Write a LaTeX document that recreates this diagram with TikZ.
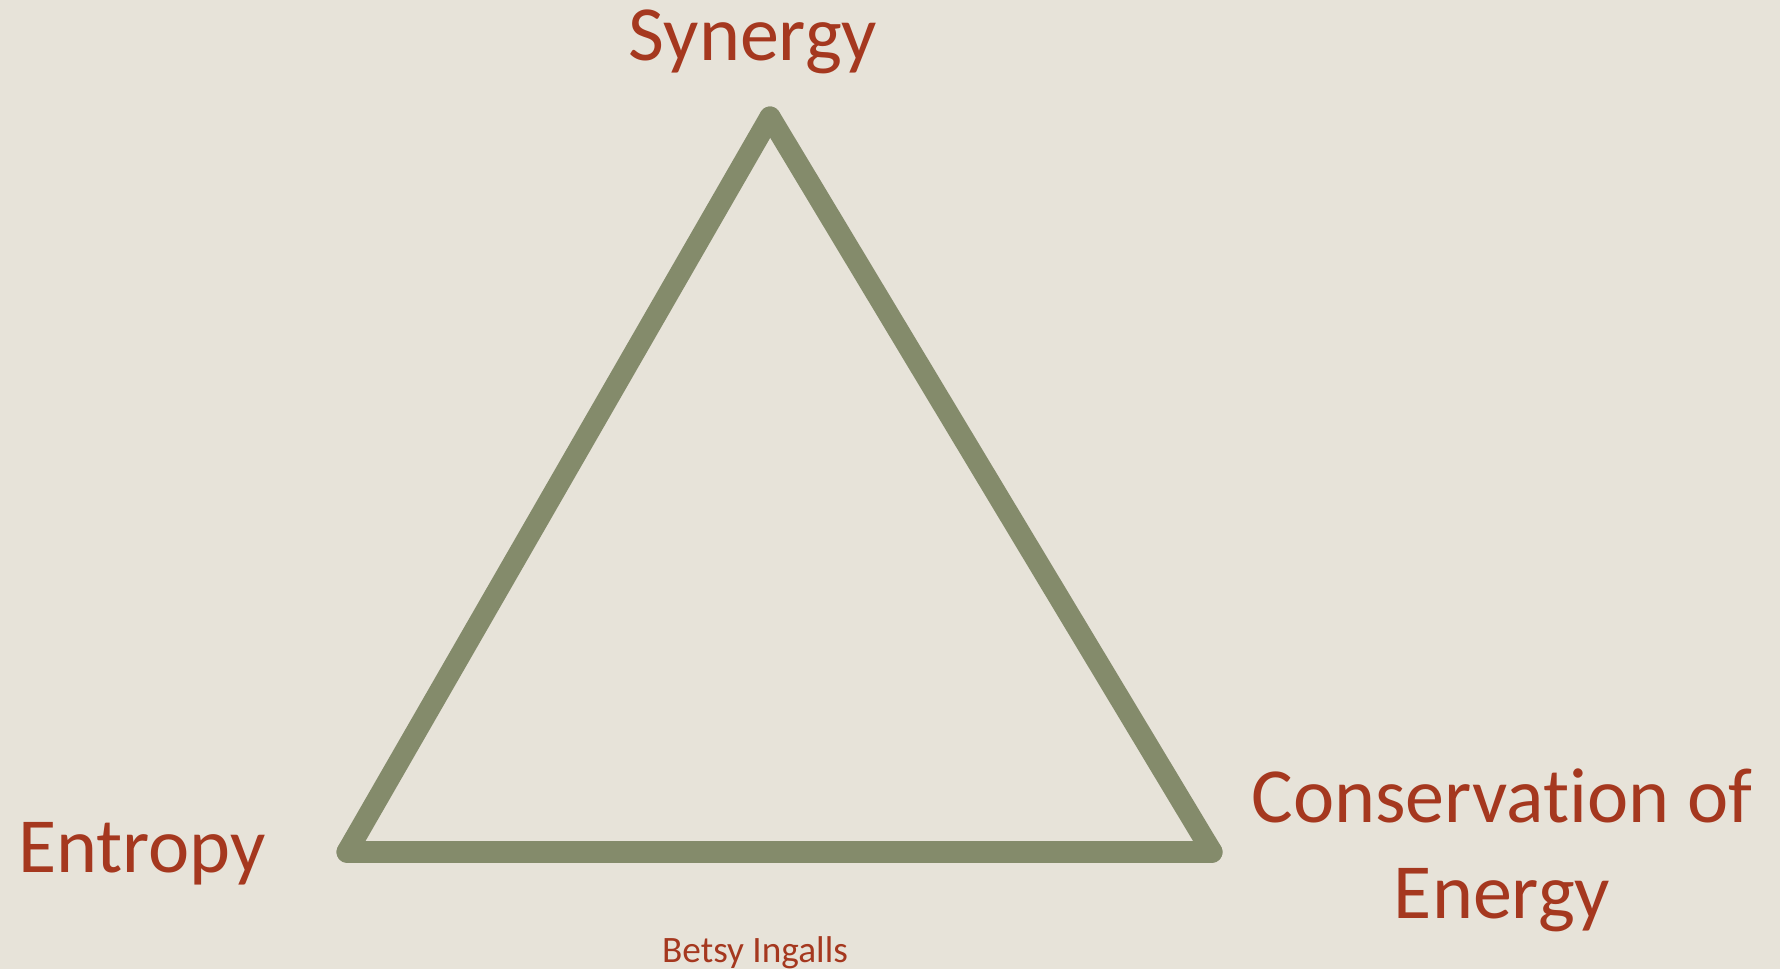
\documentclass[tikz,border=0pt]{standalone}
\usepackage{fontspec}
\setmainfont{Carlito}[Ligatures=NoCommon]
\usepackage[usenames,dvipsnames]{xcolor}
\definecolor{slidebg}{HTML}{E7E3D9}
\definecolor{olive}{HTML}{848B6B}
\definecolor{rust}{HTML}{A5381F}
\tikzset{
  edge/.style={draw=olive, line width=6pt, line cap=round, line join=round},
  corner/.style={text=rust, font=\fontsize{22.2}{27.3}\selectfont, inner sep=0pt},
}

\begin{document}
\begin{tikzpicture}[x=0.01cm, y=-0.01cm]
        \fill [slidebg] (0, 0) rectangle (1780, 969);
        \useasboundingbox (0, 0) rectangle (1780, 969);

        % corners of the triangle
        \coordinate (top) at (770, 117);
        \coordinate (left) at (347, 852);
        \coordinate (right) at (1212, 852);

        \draw [edge] (top) -- (left);
        \draw [edge] (left) -- (right);
        \draw [edge] (right) -- (top);

        \node [corner, anchor=base] (synergy) at (753, 60) {Synergy};
        \node [corner, anchor=base] (entropy) at (142, 872) {Entropy};
        % two lines: the base anchor sits on the lower one
        \node [corner, anchor=base, align=center] (conservation) at (1502, 918) {Conservation of\\Energy};

        \node [text=rust, font=\fontsize{10.6}{12}\selectfont, inner sep=0pt, anchor=base] (author) at (755, 962) {Betsy Ingalls};
      \end{tikzpicture}
\end{document}
